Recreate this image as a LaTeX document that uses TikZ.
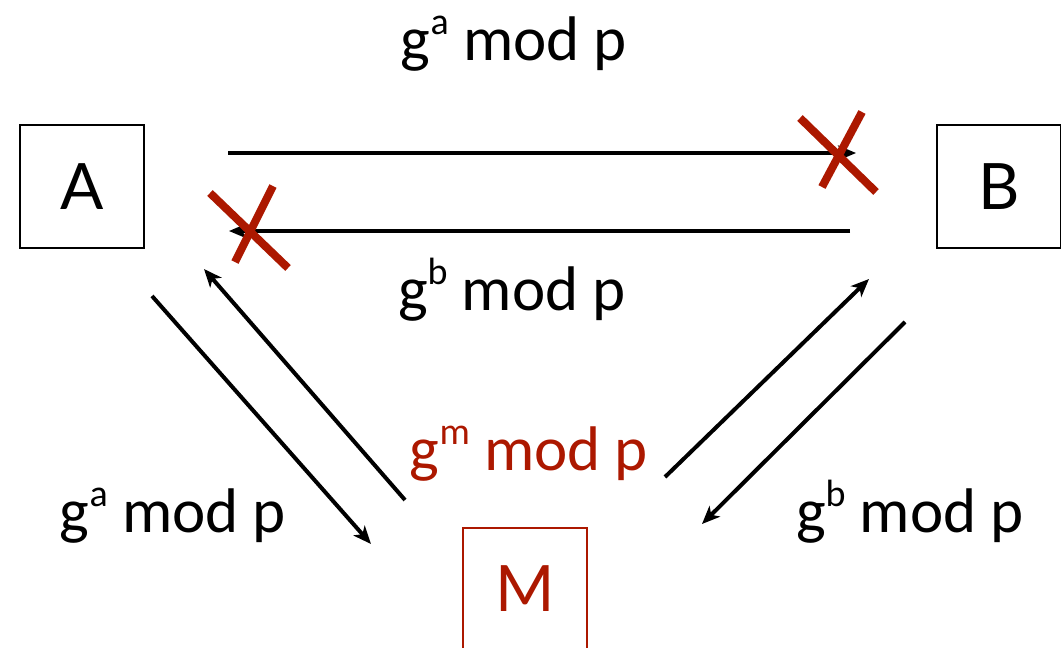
\documentclass[tikz,border=0pt]{standalone}
\usepackage{fontspec}
\setmainfont{Carlito}
\newfontfamily\boxfont{Lato}
\usetikzlibrary{arrows.meta}
\definecolor{myred}{RGB}{172,24,0}
\newcommand\upx[1]{\raisebox{26pt}{\fontsize{38}{38}\selectfont #1}}
\tikzset{
  party/.style={draw=black, line width=2pt, minimum width=124pt, minimum height=123pt, inner sep=0pt, font=\boxfont\fontsize{64}{64}\selectfont},
  msg/.style={line width=4pt, -{Stealth[length=18pt,width=15pt,inset=5pt]}},
  lbl/.style={font=\fontsize{63}{63}\selectfont, inner sep=0pt, anchor=base},
  cross/.style={draw=myred, line width=8pt},
}
\begin{document}
\begin{tikzpicture}[x=1pt,y=-1pt]
\useasboundingbox (0,0) rectangle (1061,648);
\clip (0,0) rectangle (1061,648);
% parties
\node[party] (A) at (82,186.5) {A};
\node[party] (B) at (999,186.5) {B};
\node[party, draw=myred, text=myred] (M) at (525,589) {M};
% horizontal messages
\coordinate (t1) at (228,153); \coordinate (t2) at (856,153);
\coordinate (b1) at (850,231); \coordinate (b2) at (229,231);
\draw[msg] (t1) -- (t2);
\draw[msg] (b1) -- (b2);
% diagonal messages
\coordinate (l1) at (152,296); \coordinate (l2) at (371,544);
\coordinate (l3) at (405,500); \coordinate (l4) at (204,269);
\coordinate (r1) at (665,477); \coordinate (r2) at (869,279);
\coordinate (r3) at (905,322); \coordinate (r4) at (702,524);
\draw[msg] (l1) -- (l2);
\draw[msg] (l3) -- (l4);
\draw[msg] (r1) -- (r2);
\draw[msg] (r3) -- (r4);
% crosses
\coordinate (x1a) at (800,118); \coordinate (x1b) at (876,192);
\coordinate (x1c) at (862,112); \coordinate (x1d) at (822,187);
\draw[cross] (x1a) -- (x1b);
\draw[cross] (x1c) -- (x1d);
\coordinate (x2a) at (210,193); \coordinate (x2b) at (288,268);
\coordinate (x2c) at (273,186); \coordinate (x2d) at (235,262);
\draw[cross] (x2a) -- (x2b);
\draw[cross] (x2c) -- (x2d);
% labels
\node[lbl] (la) at (514,60) {g\upx{a} mod p};
\node[lbl] (lb) at (512,310) {g\upx{b} mod p};
\node[lbl, text=myred] (lm) at (529,470) {g\upx{m} mod p};
\node[lbl] (la2) at (173,532) {g\upx{a} mod p};
\node[lbl] (lb2) at (910,532) {g\upx{b} mod p};
\end{tikzpicture}
\end{document}
